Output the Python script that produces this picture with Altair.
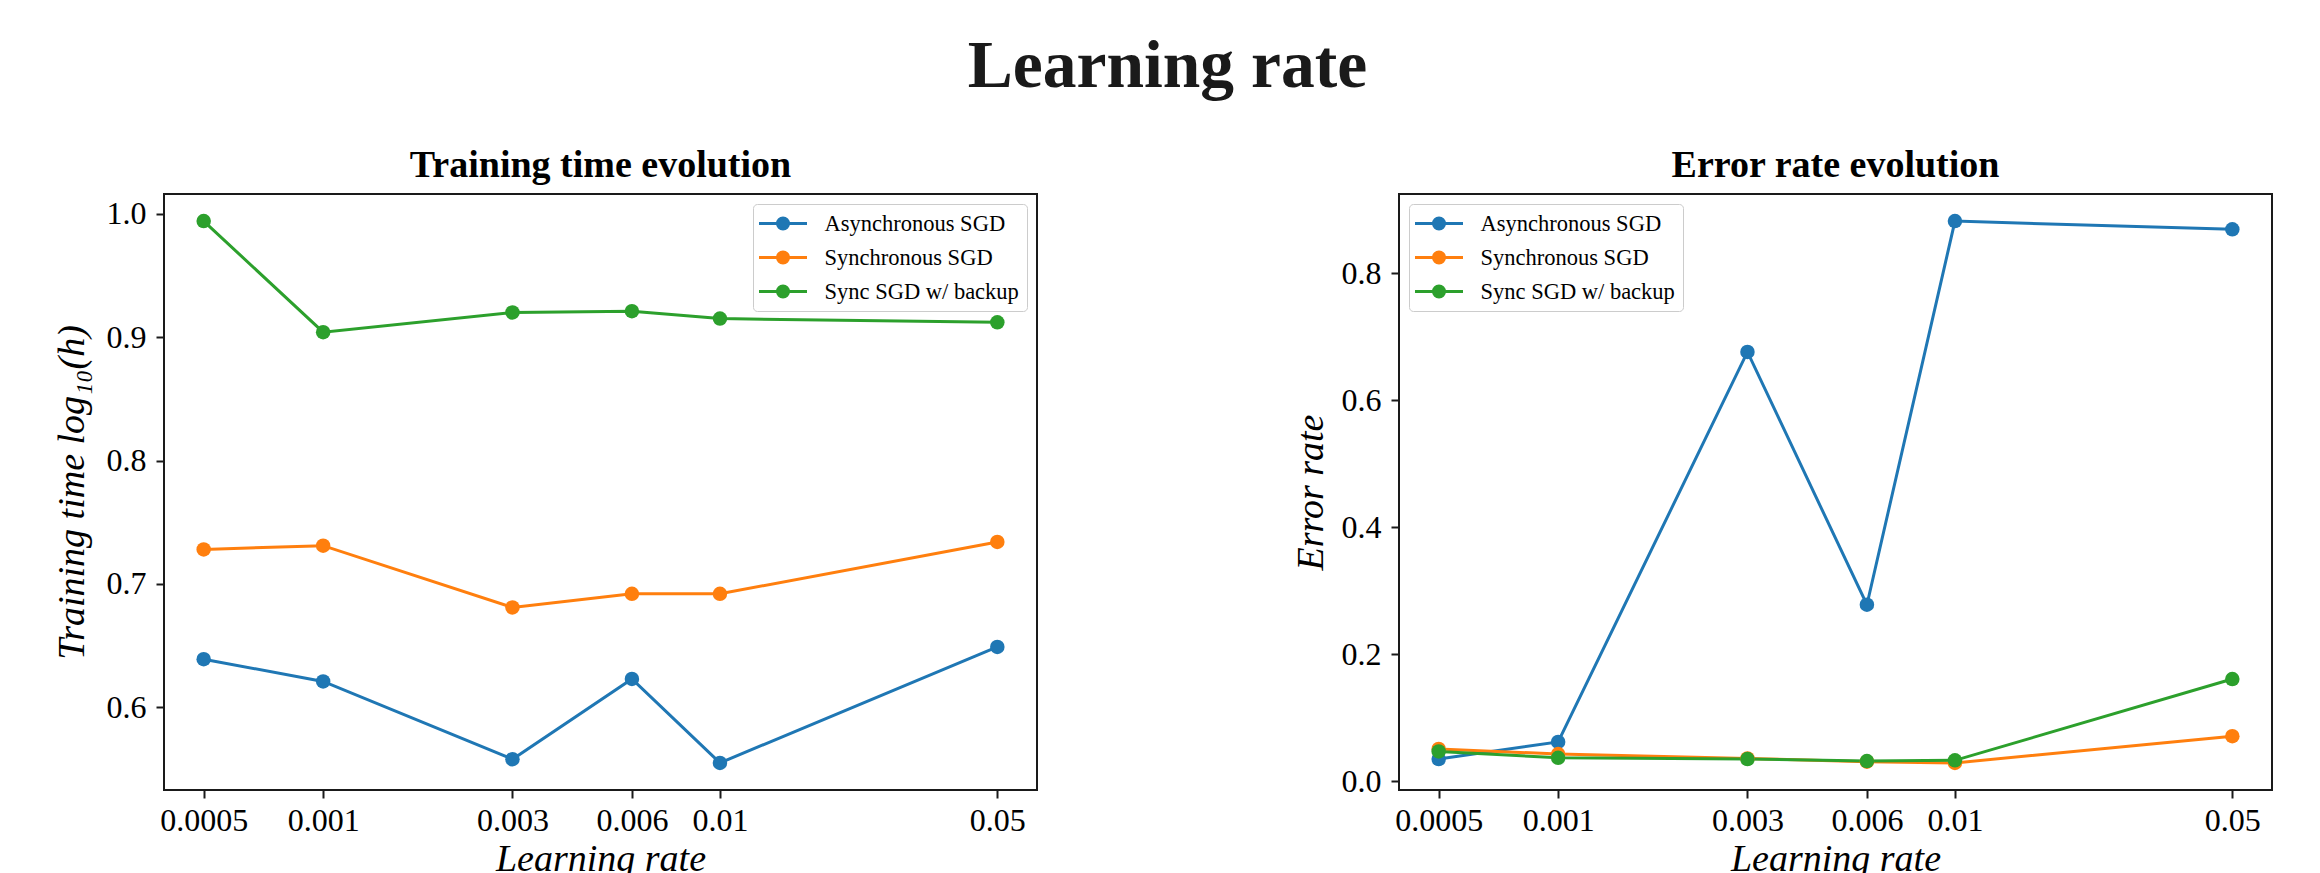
import math

import altair as alt
import pandas as pd

# ---- data -------------------------------------------------------------
learning_rates = [0.0005, 0.001, 0.003, 0.006, 0.01, 0.05]
series_names = ["Asynchronous SGD", "Synchronous SGD", "Sync SGD w/ backup"]
series_colors = ["#1f77b4", "#ff7f0e", "#2ca02c"]

# training time, log10(hours)
time_async = [0.639, 0.621, 0.558, 0.623, 0.555, 0.649]
time_sync = [0.728, 0.731, 0.681, 0.692, 0.692, 0.734]
time_backup = [0.994, 0.904, 0.920, 0.921, 0.915, 0.912]

# final error rate
err_async = [0.035, 0.062, 0.676, 0.278, 0.882, 0.869]
err_sync = [0.051, 0.043, 0.036, 0.031, 0.029, 0.071]
err_backup = [0.047, 0.037, 0.035, 0.032, 0.033, 0.161]

x_ticks = learning_rates
time_ticks = [0.6, 0.7, 0.8, 0.9, 1.0]
err_ticks = [0.0, 0.2, 0.4, 0.6, 0.8]

FONT = "Liberation Serif"
PANEL_W = 873
PANEL_H = 596


def long_table(series):
    rows = []
    for name, values in zip(series_names, series):
        for lr, v in zip(learning_rates, values):
            rows.append({"lr": lr, "value": v, "series": name})
    return pd.DataFrame(rows)


def padded(lo, hi, frac=0.05):
    span = hi - lo
    return [lo - frac * span, hi + frac * span]


def log_padded(lo, hi, frac=0.05):
    a, b = padded(math.log10(lo), math.log10(hi), frac)
    return [10 ** a, 10 ** b]


x_domain = log_padded(min(learning_rates), max(learning_rates))

# legend handle: a short line with a dot in its middle
LEGEND_SYMBOL = (
    "M-2.4,0L2.4,0"
    "M-0.55,0A0.55,0.55,0,1,1,0.55,0A0.55,0.55,0,1,1,-0.55,0Z"
)

color_scale = alt.Scale(domain=series_names, range=series_colors)


def panel(series, title, y_title, y_ticks, legend_orient, y_title_x):
    df = long_table(series)
    all_vals = [v for s in series for v in s]
    y_domain = padded(min(all_vals), max(all_vals))

    x = alt.X(
        "lr:Q",
        scale=alt.Scale(type="log", domain=x_domain, nice=False),
        axis=alt.Axis(
            values=x_ticks,
            format="~g",
            title="Learning rate",
            titleY=80,
            titleBaseline="alphabetic",
            labelFlush=False,
            labelOverlap=False,
        ),
    )
    y = alt.Y(
        "value:Q",
        scale=alt.Scale(domain=y_domain, nice=False, zero=False),
        axis=alt.Axis(
            values=y_ticks,
            format=".1f",
            title=y_title,
            titleX=y_title_x,
            titleBaseline="alphabetic",
            labelOverlap=False,
        ),
    )
    legend = alt.Legend(title=None, orient=legend_orient)

    lines = alt.Chart(df).mark_line(strokeWidth=3).encode(
        x=x,
        y=y,
        stroke=alt.Stroke("series:N", scale=color_scale, legend=legend),
    )
    dots = alt.Chart(df).mark_point(
        filled=True, size=210, opacity=1, strokeWidth=0
    ).encode(
        x=x,
        y=y,
        fill=alt.Fill("series:N", scale=color_scale, legend=legend),
    )
    return alt.layer(lines, dots).properties(
        width=PANEL_W,
        height=PANEL_H,
        title=alt.TitleParams(
            title,
            font=FONT,
            fontSize=38,
            fontWeight="bold",
            color="black",
            baseline="alphabetic",
            anchor="middle",
            frame="group",
            offset=0,
            dy=21,
        ),
    )


left = panel(
    [time_async, time_sync, time_backup],
    "Training time evolution",
    "Training time log\u2081\u2080(h)",
    time_ticks,
    "top-right",
    -81,
)
right = panel(
    [err_async, err_sync, err_backup],
    "Error rate evolution",
    "Error rate",
    err_ticks,
    "top-left",
    -77,
)

chart = (
    alt.hconcat(
        left,
        right,
        spacing=362,
        bounds="flush",
        title=alt.TitleParams(
            "Learning rate",
            font=FONT,
            fontSize=67.5,
            fontWeight="bold",
            color="#1a1a1a",
            baseline="alphabetic",
            anchor="middle",
            offset=0,
            dy=8,
            dx=5,
        ),
    )
    .resolve_scale(stroke="independent", fill="independent")
    .configure(font=FONT, padding={"left": 52, "top": 32, "right": 0, "bottom": 0})
    .configure_view(stroke="#1a1a1a", strokeWidth=2)
    .configure_axis(
        grid=False,
        domain=False,
        labelFont=FONT,
        labelFontSize=32,
        labelColor="black",
        tickColor="#1a1a1a",
        tickSize=8,
        tickWidth=2,
        titleFont=FONT,
        titleFontSize=38,
        titleFontStyle="italic",
        titleFontWeight="normal",
        titleColor="black",
    )
    .configure_axisX(labelBaseline="alphabetic", labelPadding=32)
    .configure_axisY(labelPadding=10)
    .configure_legend(
        labelFont=FONT,
        labelFontSize=22.5,
        labelColor="black",
        labelLimit=400,
        symbolType=LEGEND_SYMBOL,
        symbolSize=400,
        symbolStrokeWidth=3,
        symbolOpacity=1,
        symbolOffset=10.5,
        labelOffset=30,
        rowPadding=11,
        padding=8,
        strokeColor="#cccccc",
        fillColor="white",
        cornerRadius=4,
        offset=10,
    )
)

chart.save("out.html", embed_options={"renderer": "svg", "actions": False})
